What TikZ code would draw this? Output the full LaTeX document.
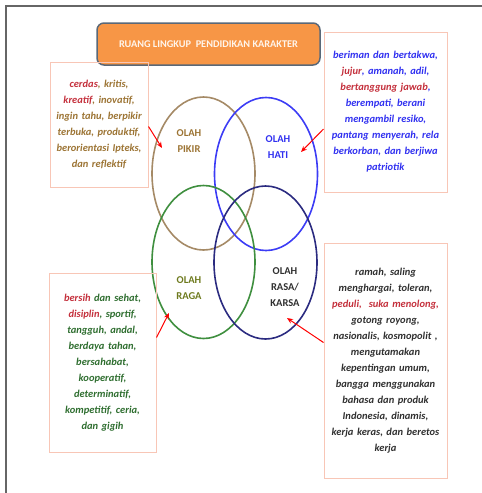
\documentclass[tikz,border=0pt]{standalone}
\usepackage{fontspec}
\setmainfont{Carlito}
\usetikzlibrary{arrows.meta,shapes.geometric}
\definecolor{kotak}{HTML}{F8C6B6}
\definecolor{oranye}{HTML}{F79646}
\definecolor{tepi}{HTML}{5A6878}
\definecolor{merah}{HTML}{C4303C}
\definecolor{coklat}{HTML}{9C7434}
\definecolor{biru}{HTML}{3030F0}
\definecolor{hijau}{HTML}{2F6E30}
\definecolor{gelap}{HTML}{303030}
\definecolor{cincincoklat}{HTML}{A58A66}
\definecolor{cincinbiru}{HTML}{3C3CF5}
\definecolor{cincinhijau}{HTML}{3F8F3F}
\definecolor{cincinnavy}{HTML}{2B2B80}
\definecolor{zaitun}{HTML}{6E7A1E}
\tikzset{ring/.style={ellipse,draw,line width=1.6pt,inner sep=0pt,minimum width=103pt,minimum height=153pt}}
\tikzset{olah/.style={align=center,font=\bfseries\fontsize{10.5}{16}\selectfont}}
\tikzset{ket/.style={draw=kotak,line width=1pt,align=center,inner sep=2pt,font=\bfseries\itshape\fontsize{10.5}{16}\selectfont}}
\tikzset{pointer/.style={draw=red,line width=1pt,-{Stealth[length=6pt,width=5pt]}}}

\begin{document}
\begin{tikzpicture}[x=1pt,y=-1pt]
  \useasboundingbox (0,0) rectangle (482,493);
  \draw[gray!80!black,line width=1.5pt] (6,493) -- (6,6) -- (482,6);
  \node[draw=tepi,fill=oranye,line width=1.5pt,rounded corners=7pt,minimum width=223pt,minimum height=42pt,
        text=orange!8!white,font=\bfseries\fontsize{10.3}{12}\selectfont] (judul) at (208.5,44) {RUANG LINGKUP\ \ PENDIDIKAN KARAKTER};
  \node[ring,draw=cincincoklat] (pikir) at (203.5,173.5) {};
  \node[ring,draw=cincinbiru] (hati) at (266,174) {};
  \node[ring,draw=cincinhijau] (raga) at (203.5,262) {};
  \node[ring,draw=cincinnavy] (rasa) at (265.5,262.5) {};
  \node[olah,text=coklat] (lpikir) at (189,141) {OLAH\\PIKIR};
  \node[olah,text=biru] (lhati) at (278,147) {OLAH\\HATI};
  \node[olah,text=zaitun] (lraga) at (189,288) {OLAH\\RAGA};
  \node[olah,text=gelap] (lrasa) at (285,287) {OLAH\\RASA/\\KARSA};
  \node[ket,text=coklat,text width=94pt,minimum height=125pt] (pikirbox) at (99,124.5)
    {{\color{merah}cerdas}, kritis,\\{\color{merah}kreatif}, inovatif,\\ingin tahu, berpikir\\terbuka, produktif,\\berorientasi Ipteks,\\dan reflektif};
  \node[ket,text=biru,text width=119pt,minimum height=160pt] (hatibox) at (385.5,112)
    {beriman dan bertakwa,\\{\color{merah}jujur}, amanah, adil,\\{\color{merah}bertanggung jawab},\\berempati, berani\\mengambil resiko,\\pantang menyerah, rela\\berkorban, dan berjiwa\\patriotik};
  \node[ket,text=hijau,text width=103pt,minimum height=179pt] (ragabox) at (102.5,362.5)
    {{\color{merah}bersih} dan sehat,\\{\color{merah}disiplin}, sportif,\\tangguh, andal,\\berdaya tahan,\\bersahabat,\\kooperatif,\\determinatif,\\kompetitif, ceria,\\dan gigih};
  \node[ket,text=gelap,text width=119pt,minimum height=235pt] (rasabox) at (385.5,360.5)
    {ramah, saling\\menghargai, toleran,\\{\color{merah}peduli,\ \ suka menolong,}\\gotong royong,\\nasionalis, kosmopolit ,\\mengutamakan\\kepentingan umum,\\bangga menggunakan\\bahasa dan produk\\Indonesia, dinamis,\\kerja keras, dan beretos\\kerja};
  \coordinate (pikirtip) at (162,148);
  \coordinate (hatitip) at (301,152);
  \coordinate (ragatip) at (169,313);
  \coordinate (rasatip) at (287,318);
  \draw[pointer] ([yshift=-2pt]pikirbox.east) -- (pikirtip);
  \draw[pointer] ([yshift=-17pt]hatibox.west) -- (hatitip);
  \draw[pointer] ([yshift=25pt]ragabox.east) -- (ragatip);
  \draw[pointer] ([yshift=18pt]rasabox.west) -- (rasatip);
\end{tikzpicture}
\end{document}
